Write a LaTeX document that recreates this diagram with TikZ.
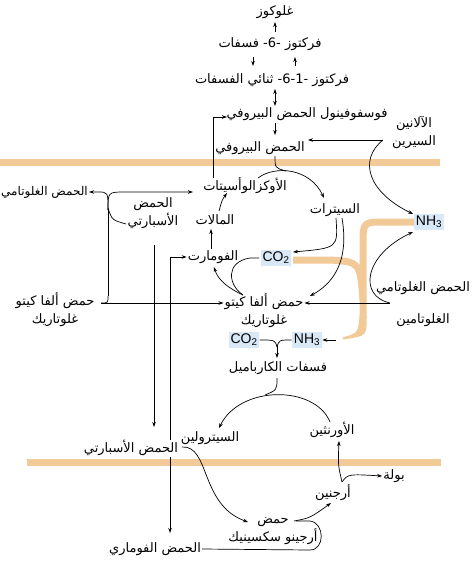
\documentclass[tikz,border=0pt]{standalone}
\usepackage{fontspec}
\setmainfont{Liberation Sans}
\newfontfamily\arabicfont[Script=Arabic]{DejaVu Sans}
\TeXXeTstate=1
\usetikzlibrary{arrows.meta}
\newcommand{\ar}[1]{{\arabicfont\beginR #1\endR}}
\definecolor{bandcol}{RGB}{242,202,152}
\definecolor{boxblue}{RGB}{216,232,246}
\begin{document}
\begin{tikzpicture}[x=1pt,y=-1pt,
  lbl/.style={inner sep=1pt, font=\fontsize{13}{18}\selectfont, align=center},
  chem/.style={fill=boxblue, inner sep=2pt, font=\fontsize{14}{16}\selectfont},
  arr/.style={-{Stealth[length=5pt,width=3.5pt]}, line width=0.7pt},
  ln/.style={line width=0.7pt},
  bandline/.style={line width=7pt, draw=bandcol, line join=round}]
\useasboundingbox (0,0) rectangle (473,561);
% bands
\draw[bandline] (0,163) -- (440,163);
\draw[bandline] (27,462) -- (441,462);
\draw[bandline] (414,222) -- (385,222) .. controls (363,222) .. (363,245) -- (363,318);
\draw[bandline] (293,260) -- (330,260) .. controls (360,262) .. (363,300);
\fill[bandcol] (366.5,316) .. controls (367,336) .. (343,339.5) -- (342.5,337.5) .. controls (358,333) .. (359.5,316) -- cycle;
% nodes
\node[lbl] (glc) at (275,12) {\ar{غلوكوز}};
\node[lbl] (f6p) at (270,44) {\ar{فركتوز -6- فسفات}};
\node[lbl] (fbp) at (272,80) {\ar{فركتوز -\hbox{1}-\hbox{6}- ثنائي الفسفات}};
\node[lbl] (pep) at (307,114) {\ar{فوسفوفينول الحمض البيروفي}};
\node[lbl] (pyr) at (260,148) {\ar{الحمض البيروفي}};
\node[lbl] (alaser) at (414,132) {\ar{الآلانين}\\\ar{السيرين}};
\node[lbl] (oaa) at (245,186) {\ar{الأوكزالوأسيتات}};
\node[lbl] (cit) at (335,210) {\ar{السيترات}};
\node[lbl, font=\fontsize{12}{16}\selectfont, anchor=east] (glu1) at (89,192) {\ar{الحمض الغلوتامي}};
\node[lbl] (asp1) at (153,213) {\ar{الحمض}\\\ar{الأسبارتي}};
\node[lbl] (mal) at (215,220) {\ar{المالات}};
\node[lbl] (fum) at (213,257) {\ar{الفومارت}};
\node[chem] (co2a) at (276,258) {CO\textsubscript{2}};
\node[chem] (nh3a) at (429,222) {NH\textsubscript{3}};
\node[lbl] (akg1) at (55,310) {\ar{حمض ألفا كيتو}\\\ar{غلوتاريك}};
\node[lbl] (akg2) at (264,311) {\ar{حمض ألفا كيتو}\\\ar{غلوتاريك}};
\node[lbl] (glu2) at (423,288) {\ar{الحمض الغلوتامي}};
\node[lbl] (gln) at (423,320) {\ar{الغلوتامين}};
\node[chem] (co2b) at (244,340) {CO\textsubscript{2}};
\node[chem] (nh3b) at (307,340) {NH\textsubscript{3}};
\node[lbl] (cp) at (278,368) {\ar{فسفات الكارباميل}};
\node[lbl] (citr) at (210,438) {\ar{السيترولين}};
\node[lbl] (orn) at (332,430) {\ar{الأورنثين}};
\node[lbl] (asp2) at (131,448) {\ar{الحمض الأسبارتي}};
\node[lbl] (arg) at (333,493) {\ar{أرجنين}};
\node[lbl] (urea) at (394,476) {\ar{بولة}};
\node[lbl] (as) at (273,531) {\ar{حمض}\\\ar{أرجينو سكسينيك}};
\node[lbl] (fumac) at (155,549) {\ar{الحمض الفوماري}};
% glycolysis
\draw[arr] (275,32) -- (275,22);
\draw[arr] (253,57) -- (253,66);
\draw[arr] (295,66) -- (295,57);
\draw[ln,{Stealth[length=5pt,width=3.5pt]}-{Stealth[length=5pt,width=3.5pt]}] (275,89) -- (275,106);
\draw[arr] (275,123) -- (275,135);
\draw[arr] (383,140) -- (308,140);
\draw[arr] (383,140) .. controls (358,160) and (368,192) .. (413,214);
% TCA
\draw[arr] (258,178) .. controls (275,165) and (310,168) .. (324,198);
\draw[ln] (275,156) .. controls (275,168) .. (286,171);
\draw[arr] (336,218) .. controls (338,248) .. (293,252);
\draw[arr] (342,218) .. controls (350,265) and (330,285) .. (310,296);
\draw[ln] (259,258) -- (250,258) .. controls (225,262) and (228,285) .. (243,295);
\draw[arr] (243,295) .. controls (228,288) and (218,280) .. (214,267);
\draw[arr] (211,249) -- (211,229);
\draw[arr] (219,211) .. controls (222,200) .. (227,193);
\draw[arr] (213,178) -- (213,117) -- (227,117);
% left transamination
\draw[ln] (108,296) -- (108,210);
\draw[arr] (108,210) .. controls (108,192) .. (125,192) -- (193,192);
\draw[arr] (108,210) .. controls (108,192) .. (98,192) -- (glu1.east);
\draw[ln] (126,224) .. controls (112,220) .. (108,208);
\draw[ln] (101,303) .. controls (108,303) .. (108,296);
\draw[arr] (101,303) -- (akg2.west |- 0,303);
% right glutamate
\draw[arr] (390,303) -- (akg2.east |- 0,303);
\draw[arr] (390,303) .. controls (358,296) and (364,255) .. (413,232);
% carbamyl phosphate
\draw[ln] (co2b.east) .. controls (275,340) .. (277,347);
\draw[ln] (nh3b.west) .. controls (279,340) .. (277,347);
\draw[arr] (277,345) -- (277,358);
\draw[arr] (336,340) -- (nh3b.east);
% urea cycle
\draw[arr] (330,422) .. controls (315,385) and (240,385) .. (219,428);
\draw[ln] (277,378) .. controls (277,390) .. (265,395);
\draw[arr] (182,447) .. controls (210,445) and (200,505) .. (248,522);
\draw[arr] (294,521) .. controls (310,518) .. (331,503);
\draw[arr] (342,482) .. controls (338,465) .. (339,441);
\draw[arr] (342,482) .. controls (348,474) .. (urea.west);
\draw[ln] (296,521) -- (310,521) .. controls (325,523) and (325,550) .. (310,550) -- (fumac.east);
% aspartate / fumarate verticals
\draw[arr] (154,245) -- (154,427);
\draw[arr] (170,440) |- (fum.west);
\draw[arr] (170,457) -- (170,533);
\end{tikzpicture}
\end{document}
